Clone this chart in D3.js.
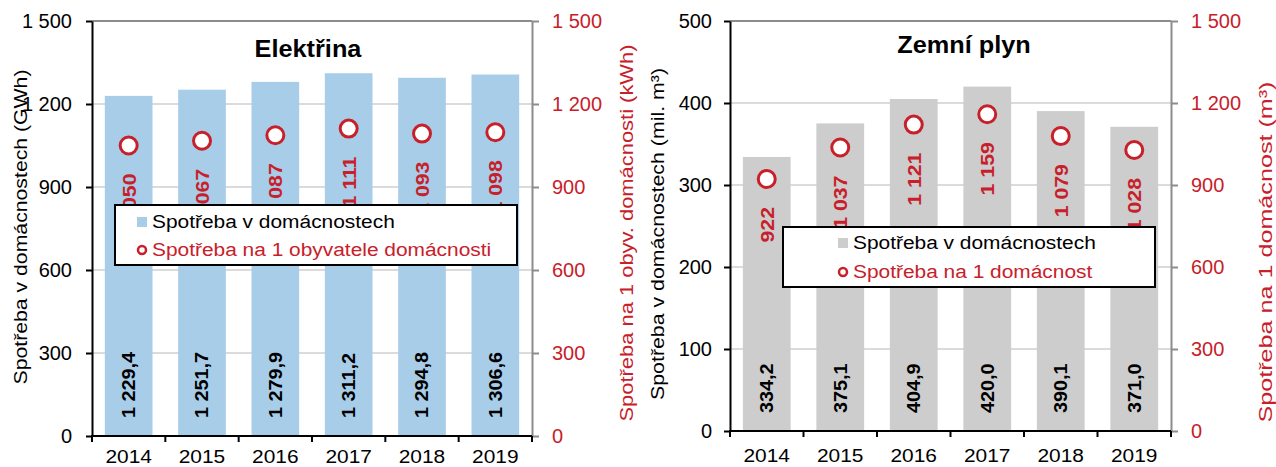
<!DOCTYPE html>
<html>
<head>
<meta charset="utf-8" />
<title>Spotřeba v domácnostech</title>
<script src="https://cdnjs.cloudflare.com/ajax/libs/d3/7.8.5/d3.min.js"></script>
<style>
	body { margin: 0; background: #fff; }
	text { font-family: 'Liberation Sans', Arial, sans-serif; }
</style>
</head>
<body>
<script>
	// data
	var roky = ["2014", "2015", "2016", "2017", "2018", "2019"];
	var elektrinaCelkem = [1229.4, 1251.7, 1279.9, 1311.2, 1294.8, 1306.6];
	var elektrinaNaObyv = [1050, 1067, 1087, 1111, 1093, 1098];
	var plynCelkem = [334.2, 375.1, 404.9, 420.0, 390.1, 371.0];
	var plynNaDomacnost = [922, 1037, 1121, 1159, 1079, 1028];
	var elTicks = [0, 300, 600, 900, 1200, 1500];
	var plynTicksL = [0, 100, 200, 300, 400, 500];
	var plynTicksR = [0, 300, 600, 900, 1200, 1500];

	var cz = d3.formatLocale({decimal: ",", thousands: " ", grouping: [3], currency: ["", " Kč"]});
	var fInt = cz.format(",d"), fDec = cz.format(",.1f");

	var RED = "#C8202A", GRAY = "#8C8C8C", S = 1.1;

	var svg = d3.select("body").append("svg")
		.attr("width", 1276)
		.attr("height", 467);

	// text helper - stretched a bit, the original font is wider than Arial
	function txt(g, s, x, y, o) {
		var t = g.append("text")
			.text(s)
			.attr("font-size", o.size || 19)
			.attr("font-weight", o.weight || "normal")
			.attr("fill", o.fill || "#000")
			.attr("text-anchor", o.anchor || "start");
		if (o.dy) t.attr("dy", o.dy);
		var tr = "translate(" + x + "," + y + ")" + (o.rot ? " rotate(" + o.rot + ")" : "");
		if (o.len) {
			t.attr("textLength", o.len).attr("lengthAdjust", "spacingAndGlyphs");
		} else {
			tr += " scale(" + (o.stretch || S) + ",1)";
		}
		t.attr("transform", tr);
		return t;
	}

	function drawChart(cfg) {
		var g = svg.append("g");
		var x = d3.scaleBand().domain(roky).range([cfg.x0, cfg.x1]).paddingInner(0.35).paddingOuter(0.175);
		var yL = d3.scaleLinear().domain([0, cfg.ticksL[cfg.ticksL.length - 1]]).range([cfg.y1, cfg.y0]);
		var yR = d3.scaleLinear().domain([0, cfg.ticksR[cfg.ticksR.length - 1]]).range([cfg.y1, cfg.y0]);
		var bw = x.bandwidth();

		// gridlines
		g.append("g").selectAll("line")
			.data(cfg.ticksL.slice(1, -1)).enter().append("line")
			.attr("x1", cfg.x0).attr("x2", cfg.x1)
			.attr("y1", function(d) { return yL(d); })
			.attr("y2", function(d) { return yL(d); })
			.attr("stroke", "#CFCFCF").attr("stroke-width", 1.3);

		// bars
		var bars = cfg.bars.map(function(v, i) { return {rok: roky[i], v: v}; });
		g.append("g").selectAll("rect")
			.data(bars).enter().append("rect")
			.attr("x", function(d) { return x(d.rok); })
			.attr("y", function(d) { return yL(d.v); })
			.attr("width", bw)
			.attr("height", function(d) { return cfg.y1 - yL(d.v); })
			.attr("fill", cfg.barColor);
		bars.forEach(function(d) {
			txt(g, fDec(d.v), x(d.rok) + bw / 2, cfg.y1 - 18, {rot: -90, weight: "bold", size: 18, dy: "0.36em"});
		});

		// points
		var pts = cfg.pts.map(function(v, i) { return {rok: roky[i], v: v}; });
		pts.forEach(function(d) {
			txt(g, fInt(d.v), x(d.rok) + bw / 2, yR(d.v) + 28, {rot: -90, weight: "bold", size: 19, stretch: 1.12, fill: RED, anchor: "end", dy: "0.36em"});
		});
		g.append("g").selectAll("circle")
			.data(pts).enter().append("circle")
			.attr("cx", function(d) { return x(d.rok) + bw / 2; })
			.attr("cy", function(d) { return yR(d.v); })
			.attr("r", 8.5)
			.attr("fill", "#fff")
			.attr("stroke", RED)
			.attr("stroke-width", 3);

		// legend
		var lg = cfg.legend;
		var leg = g.append("g");
		leg.append("rect")
			.attr("x", lg.x).attr("y", lg.y).attr("width", lg.w).attr("height", lg.h)
			.attr("fill", "#fff").attr("stroke", "#000").attr("stroke-width", 2);
		leg.append("rect")
			.attr("x", lg.mx - 5).attr("y", lg.r1 - 11).attr("width", 10).attr("height", 10)
			.attr("fill", cfg.barColor);
		txt(leg, lg.t1, lg.tx, lg.r1, {});
		leg.append("circle")
			.attr("cx", lg.mx).attr("cy", lg.r2 - 6).attr("r", 4)
			.attr("fill", "#fff").attr("stroke", RED).attr("stroke-width", 2.5);
		txt(leg, lg.t2, lg.tx, lg.r2, {fill: RED});

		// frame top + right
		g.append("line").attr("x1", cfg.x0).attr("x2", cfg.x1).attr("y1", cfg.y0).attr("y2", cfg.y0)
			.attr("stroke", GRAY).attr("stroke-width", 2);

		// left axis
		var axL = g.append("g")
			.attr("transform", "translate(" + cfg.x0 + ",0)")
			.call(d3.axisLeft(yL).tickValues(cfg.ticksL).tickFormat(fInt).tickSize(6).tickSizeOuter(0).tickPadding(cfg.padL));
		axL.select(".domain").attr("stroke", "#000").attr("stroke-width", 2);
		axL.selectAll(".tick line").attr("stroke", "#000").attr("stroke-width", 2);
		axL.selectAll("text").attr("font-size", 20).attr("fill", "#000").attr("font-family", "'Liberation Sans', Arial, sans-serif");

		// right axis
		var axR = g.append("g")
			.attr("transform", "translate(" + cfg.x1 + ",0)")
			.call(d3.axisRight(yR).tickValues(cfg.ticksR).tickFormat(fInt).tickSize(7).tickSizeOuter(0).tickPadding(13));
		axR.select(".domain").attr("stroke", GRAY).attr("stroke-width", 2);
		axR.selectAll(".tick line").attr("stroke", GRAY).attr("stroke-width", 2);
		axR.selectAll("text").attr("font-size", 20).attr("fill", RED).attr("font-family", "'Liberation Sans', Arial, sans-serif");

		// bottom axis - ticks on the category borders
		var step = x.step();
		var borders = roky.map(function(r) { return x(r) - (step - bw) / 2; }).concat([cfg.x1]);
		g.append("g").selectAll("line")
			.data(borders).enter().append("line")
			.attr("x1", function(d) { return d; }).attr("x2", function(d) { return d; })
			.attr("y1", cfg.y1).attr("y2", cfg.y1 + 6)
			.attr("stroke", "#000").attr("stroke-width", 2);
		g.append("line").attr("x1", cfg.x0 - 1).attr("x2", cfg.x1).attr("y1", cfg.y1).attr("y2", cfg.y1)
			.attr("stroke", "#000").attr("stroke-width", 2);
		roky.forEach(function(r) {
			txt(g, r, x(r) + bw / 2, cfg.yearY, {anchor: "middle"});
		});

		// titles
		txt(g, cfg.title, cfg.titleX, cfg.titleY, {weight: "bold", size: 23, anchor: "middle"});
		txt(g, cfg.titleL, cfg.titleLX, cfg.titleLY, {rot: -90, anchor: "middle", len: cfg.titleLLen});
		txt(g, cfg.titleR, cfg.titleRX, cfg.titleRY, {rot: -90, anchor: "middle", len: cfg.titleRLen, fill: RED});
	}

	drawChart({
		x0: 92, x1: 532, y0: 21, y1: 436,
		ticksL: elTicks, ticksR: elTicks, padL: 14,
		bars: elektrinaCelkem, pts: elektrinaNaObyv, barColor: "#A7CDE8",
		yearY: 463,
		title: "Elektřina", titleX: 308, titleY: 57,
		titleL: "Spotřeba v domácnostech (GWh)", titleLX: 27, titleLY: 227, titleLLen: 315,
		titleR: "Spotřeba na 1 obyv. domácnosti (kWh)", titleRX: 633, titleRY: 233, titleRLen: 377,
		legend: {x: 115, y: 205, w: 402, h: 60, mx: 142, tx: 152, r1: 228, r2: 256,
			t1: "Spotřeba v domácnostech", t2: "Spotřeba na 1 obyvatele domácnosti"}
	});

	drawChart({
		x0: 730, x1: 1171, y0: 21, y1: 431,
		ticksL: plynTicksL, ticksR: plynTicksR, padL: 12,
		bars: plynCelkem, pts: plynNaDomacnost, barColor: "#CDCDCD",
		yearY: 462,
		title: "Zemní plyn", titleX: 964, titleY: 53,
		titleL: "Spotřeba v domácnostech (mil. m³)", titleLX: 664, titleLY: 234, titleLLen: 332,
		titleR: "Spotřeba na 1 domácnost (m³)", titleRX: 1272, titleRY: 252, titleRLen: 341,
		legend: {x: 783, y: 227, w: 372, h: 60, mx: 843, tx: 853, r1: 249, r2: 278,
			t1: "Spotřeba v domácnostech", t2: "Spotřeba na 1 domácnost"}
	});
</script>
</body>
</html>
